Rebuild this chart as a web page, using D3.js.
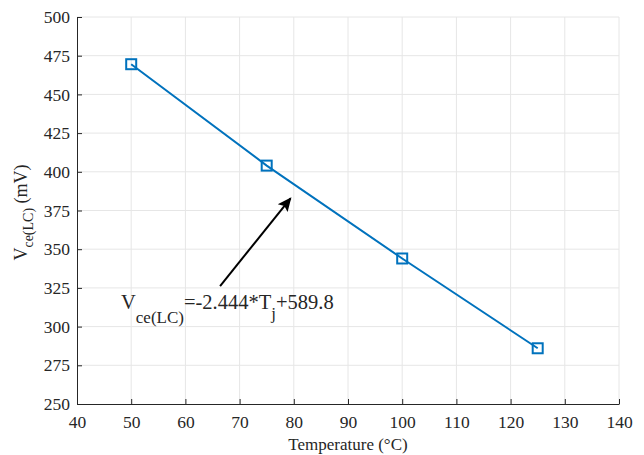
<!DOCTYPE html>
<meta charset="utf-8">
<style>
    body { margin: 0; background: #fff; }
    text { font-family: "Liberation Serif", "Times New Roman", serif; fill: #262626; }
    .grid line { stroke: #e6e6e6; stroke-width: 1; }
    .axis path, .axis line { stroke: #262626; }
</style>
<body>
<div id="chart"></div>
<script src="https://cdnjs.cloudflare.com/ajax/libs/d3/7.8.5/d3.min.js"></script>
<script>
    // data
    var temps = [50, 75, 100, 125];
    var vce = [469.5, 404, 344, 286];
    var xTicks = [40, 50, 60, 70, 80, 90, 100, 110, 120, 130, 140];
    var yTicks = [250, 275, 300, 325, 350, 375, 400, 425, 450, 475, 500];
    // arrow from label to the line, in data units [x, y]
    var arrowFrom = [66.4, 326.2];
    var arrowTo = [79.4, 382.9];

    var width = 644,
        height = 455,
        margin = {left: 77, right: 25, top: 17, bottom: 51};

    var svg = d3.select("#chart").append("svg")
        .attr("width", width)
        .attr("height", height);

    var x = d3.scaleLinear().domain([40, 140]).range([margin.left, width - margin.right]);
    var y = d3.scaleLinear().domain([250, 500]).range([height - margin.bottom, margin.top]);

    // grid
    svg.append("g").attr("class", "grid")
        .selectAll("line.v").data(xTicks.slice(1))
        .enter().append("line")
        .attr("x1", function (d) { return x(d); })
        .attr("x2", function (d) { return x(d); })
        .attr("y1", y(250)).attr("y2", y(500));
    svg.append("g").attr("class", "grid")
        .selectAll("line.h").data(yTicks.slice(1))
        .enter().append("line")
        .attr("y1", function (d) { return y(d); })
        .attr("y2", function (d) { return y(d); })
        .attr("x1", x(40)).attr("x2", x(140));

    // axes, ticks pointing in
    var xAxis = svg.append("g").attr("class", "axis")
        .attr("transform", "translate(0," + y(250) + ")")
        .call(d3.axisBottom(x).tickValues(xTicks).tickSizeInner(-5).tickSizeOuter(0).tickPadding(12));
    var yAxis = svg.append("g").attr("class", "axis")
        .attr("transform", "translate(" + x(40) + ",0)")
        .call(d3.axisLeft(y).tickValues(yTicks).tickSizeInner(-5).tickSizeOuter(0).tickPadding(7));
    svg.selectAll(".axis")
        .attr("font-family", "Liberation Serif, serif")
        .attr("font-size", 17.5);
    svg.selectAll(".axis text").attr("fill", "#262626");
    xAxis.selectAll("text").attr("dy", "0.71em");

    // x label
    svg.append("text")
        .attr("x", (x(40) + x(140)) / 2)
        .attr("y", 450)
        .attr("text-anchor", "middle")
        .style("font-size", "17px")
        .text("Temperature (\u00B0C)");

    // y label
    var yl = svg.append("text")
        .attr("transform", "translate(27," + (y(375) + 2) + ") rotate(-90)")
        .attr("text-anchor", "middle")
        .style("font-size", "18px");
    yl.append("tspan").text("V");
    yl.append("tspan").attr("dy", 6).style("font-size", "14px").text("ce(LC)");
    yl.append("tspan").attr("dy", -6).text(" (mV)");

    // line + markers
    var pts = temps.map(function (t, i) { return [t, vce[i]]; });
    var line = d3.line()
        .x(function (d) { return x(d[0]); })
        .y(function (d) { return y(d[1]); });
    svg.append("path")
        .datum(pts)
        .attr("d", line)
        .attr("fill", "none")
        .attr("stroke", "#0072BD")
        .attr("stroke-width", 2);
    var ms = 10;
    svg.selectAll("rect.m").data(pts)
        .enter().append("rect")
        .attr("x", function (d) { return x(d[0]) - ms / 2; })
        .attr("y", function (d) { return y(d[1]) - ms / 2; })
        .attr("width", ms).attr("height", ms)
        .attr("fill", "none")
        .attr("stroke", "#0072BD")
        .attr("stroke-width", 2);

    // arrow
    svg.append("defs").append("marker")
        .attr("id", "ah")
        .attr("viewBox", "0 -5 10 10")
        .attr("refX", 9).attr("refY", 0)
        .attr("markerWidth", 7).attr("markerHeight", 7)
        .attr("markerUnits", "strokeWidth")
        .attr("orient", "auto")
        .append("path")
        .attr("d", "M0,-4.5L10,0L0,4.5L2,0Z")
        .attr("fill", "#000");
    svg.append("line")
        .attr("x1", x(arrowFrom[0])).attr("y1", y(arrowFrom[1]))
        .attr("x2", x(arrowTo[0])).attr("y2", y(arrowTo[1]))
        .attr("stroke", "#000")
        .attr("stroke-width", 2)
        .attr("marker-end", "url(#ah)");

    // equation
    var eq = svg.append("text")
        .attr("x", 121).attr("y", 309)
        .style("font-size", "20.5px")
        .attr("fill", "#262626");
    eq.append("tspan").text("V");
    eq.append("tspan").attr("dy", 14).style("font-size", "17px").text("ce(LC)");
    eq.append("tspan").attr("dy", -14).text("=-2.444*T");
    eq.append("tspan").attr("dy", 10).style("font-size", "17px").text("j");
    eq.append("tspan").attr("dy", -10).text("+589.8");
</script>
</body>
